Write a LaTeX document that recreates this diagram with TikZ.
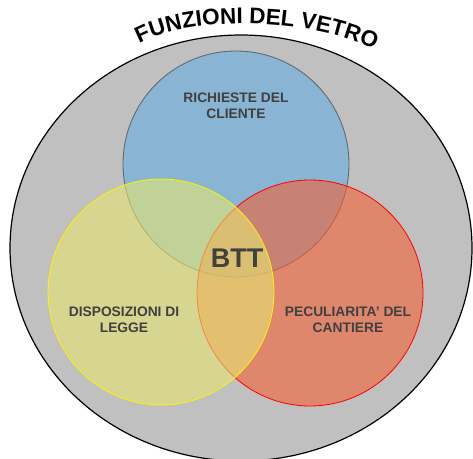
\documentclass[tikz,border=0pt]{standalone}
\usepackage{fontspec}
\setmainfont{Liberation Sans}
\usetikzlibrary{shapes.geometric,decorations.text}
\definecolor{color1}{RGB}{192,192,192}
\definecolor{color2}{RGB}{102,172,225}
\definecolor{color3}{RGB}{230,230,113}
\definecolor{color4}{RGB}{242,97,55}
\definecolor{testo}{RGB}{64,64,64}

\begin{document}
\begin{tikzpicture}[x=1pt,y=-1pt]
% insiemi del vetro: richieste, disposizioni e peculiarita'
  \tikzset{Insieme/.style   = {circle, minimum size=226pt, inner sep=0pt,
                               fill opacity=0.6, line width=0.8pt},
           Etichetta/.style = {text=testo, align=center,
                               font=\bfseries\fontsize{13.8}{16}\selectfont}}

\useasboundingbox (0,0) rectangle (473,458);

%parte esterna
\node[ellipse, draw=black, line width=1.2pt, fill=color1,
      minimum width=462pt, minimum height=426pt] (vetro) at (241,248) {};
\path[decorate, decoration={text along path, text align=center,
      text={|\bfseries\fontsize{22.5}{23}\selectfont|FUNZIONI DEL VETRO}}]
  (132,48) .. controls (178,15) and (312,15) .. (382,53);

%parte cerchi
\node[Insieme, draw={rgb,255:red,90;green,100;blue,100}, fill=color2] (cliente) at (236,164) {};
\node[Insieme, draw=red, fill=color4] (cantiere) at (310,293) {};
\node[Insieme, draw=yellow, fill=color3] (legge) at (161,292) {};

%parte etichette
\node[Etichetta] (richieste) at (236,106) {RICHIESTE DEL\\CLIENTE};
\node[Etichetta] (disposizioni) at (124,320) {DISPOSIZIONI DI\\LEGGE};
\node[Etichetta] (peculiarita) at (348,320) {PECULIARITA’ DEL\\CANTIERE};
\node[text=testo, font=\bfseries\fontsize{27}{27}\selectfont] (btt) at (237,258) {BTT};

\end{tikzpicture}
\end{document}
